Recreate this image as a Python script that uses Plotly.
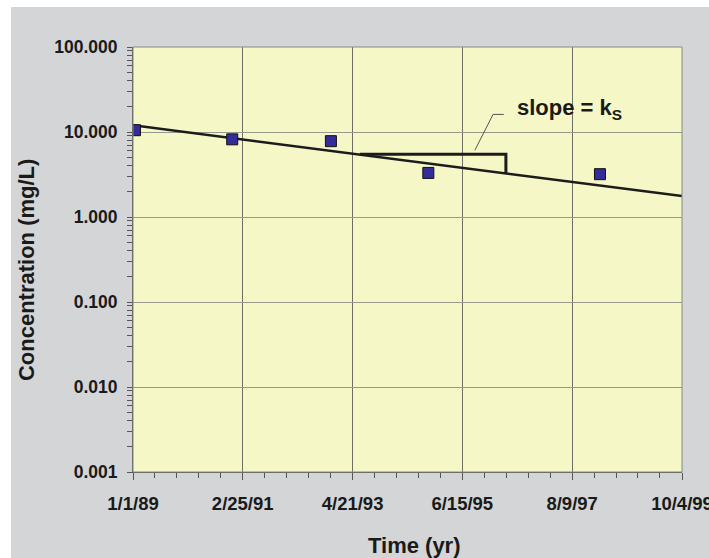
import datetime as _dt
import plotly.graph_objects as go

# ---- data ----
sample_dates = ["1989-01-15", "1990-12-12", "1992-11-17", "1994-10-15", "1998-02-24"]
sample_conc = [10.5, 8.2, 7.8, 3.3, 3.19]

fit_dates = ["1989-01-01", "1999-10-04"]
fit_conc = [12.0, 1.76]

slope_dates = ["1993-06-12", "1996-04-22", "1996-04-22"]
slope_conc = [5.47, 5.47, 3.26]

leader_dates = ["1996-04-07", "1996-01-21", "1995-09-13"]
leader_conc = [16.1, 16.1, 6.1]

x_tick_dates = ["1989-01-01", "1991-02-25", "1993-04-21", "1995-06-15", "1997-08-09", "1999-10-04"]
x_tick_text = ["1/1/89", "2/25/91", "4/21/93", "6/15/95", "8/9/97", "10/4/99"]
x_minor_dates = []
_d = [_dt.date.fromisoformat(s) for s in x_tick_dates]
for a, b in zip(_d[:-1], _d[1:]):
    step = (b - a) / 5
    for k in range(1, 5):
        x_minor_dates.append((a + step * k).isoformat())

y_tick_vals = [0.001, 0.01, 0.1, 1, 10, 100]
y_tick_text = ["0.001", "0.010", "0.100", "1.000", "10.000", "100.000"]

FONT = "Arial, Liberation Sans, sans-serif"
TXT = "#1a1a1a"
GRAY_BG = "#D3D5D6"
PLOT_BG = "#F5F7C6"

fig = go.Figure()

fig.add_trace(go.Scatter(x=fit_dates, y=fit_conc, mode="lines",
                         line=dict(color="#1c1c1c", width=2.5), hoverinfo="skip"))
fig.add_trace(go.Scatter(x=slope_dates, y=slope_conc, mode="lines",
                         line=dict(color="#1c1c1c", width=3), hoverinfo="skip"))
fig.add_trace(go.Scatter(x=leader_dates, y=leader_conc, mode="lines",
                         line=dict(color="#555555", width=1), hoverinfo="skip"))
fig.add_trace(go.Scatter(x=sample_dates, y=sample_conc, mode="markers",
                         marker=dict(symbol="square", size=11, color="#332C99",
                                     line=dict(color="#111111", width=1))))

fig.update_layout(
    width=709, height=558, autosize=False,
    margin=dict(l=133, r=27, t=47, b=86),
    paper_bgcolor=GRAY_BG, plot_bgcolor=PLOT_BG,
    showlegend=False,
    font=dict(family=FONT, color=TXT),
)

fig.update_xaxes(
    type="date", range=[x_tick_dates[0], x_tick_dates[-1]],
    tickmode="array", tickvals=x_tick_dates, ticktext=x_tick_text,
    tickfont=dict(size=18.5, family=FONT, color=TXT, weight="bold"),
    showgrid=True, gridcolor="#6e6e66", gridwidth=1,
    showline=True, linecolor="#555555", linewidth=1,
    ticks="outside", ticklen=7, tickcolor="#555555",
    minor=dict(tickmode="array", tickvals=x_minor_dates, ticks="outside",
               ticklen=5, tickcolor="#555555", showgrid=False),
    zeroline=False, ticklabelstandoff=8, ticklabeloverflow="allow",
    automargin=False,
)
fig.update_yaxes(
    type="log", range=[-3, 2],
    tickmode="array", tickvals=y_tick_vals, ticktext=y_tick_text,
    tickfont=dict(size=17.5, family=FONT, color=TXT, weight="bold"),
    showgrid=True, gridcolor="#9a9a8c", gridwidth=1,
    showline=True, linecolor="#555555", linewidth=1,
    ticks="outside", ticklen=5, tickcolor="#555555",
    minor=dict(dtick="D1", ticks="outside", ticklen=5, tickcolor="#555555", showgrid=False),
    zeroline=False, ticklabelstandoff=6, automargin=False,
)

# plot border (top/right)
fig.add_shape(type="rect", xref="paper", yref="paper", x0=0, x1=1, y0=0, y1=1,
              line=dict(color="#8a8a80", width=1), layer="above")
# white strips at the left and top edges of the picture
fig.add_shape(type="rect", xref="paper", yref="paper", x0=-0.3, x1=-0.2222, y0=-0.5, y1=1.5,
              line=dict(width=0), fillcolor="white", layer="above")
fig.add_shape(type="rect", xref="paper", yref="paper", x0=-0.3, x1=1.5, y0=1.0941, y1=1.5,
              line=dict(width=0), fillcolor="white", layer="above")

fig.add_annotation(xref="paper", yref="paper", x=0.6958, y=0.854, xanchor="left", yanchor="middle",
                   text="<b>slope = k<sub>S</sub></b>", showarrow=False,
                   font=dict(size=22, family=FONT, color=TXT))
fig.add_annotation(xref="paper", yref="paper", x=0.512, y=-0.172, xanchor="center", yanchor="middle",
                   text="<b>Time (yr)</b>", showarrow=False,
                   font=dict(size=22, family=FONT, color=TXT))
fig.add_annotation(xref="paper", yref="paper", x=-0.195, y=0.475, xanchor="center", yanchor="middle",
                   text="<b>Concentration (mg/L)</b>", showarrow=False, textangle=-90,
                   font=dict(size=22, family=FONT, color=TXT))

post = ("document.body.style.margin='0';document.body.style.overflow='hidden';"
        "var gd=document.getElementById('{plot_id}');"
        "Plotly.relayout(gd,{width:709,height:558});")

fig.write_html("out.html", config={"responsive": False, "displayModeBar": False},
               post_script=post)
